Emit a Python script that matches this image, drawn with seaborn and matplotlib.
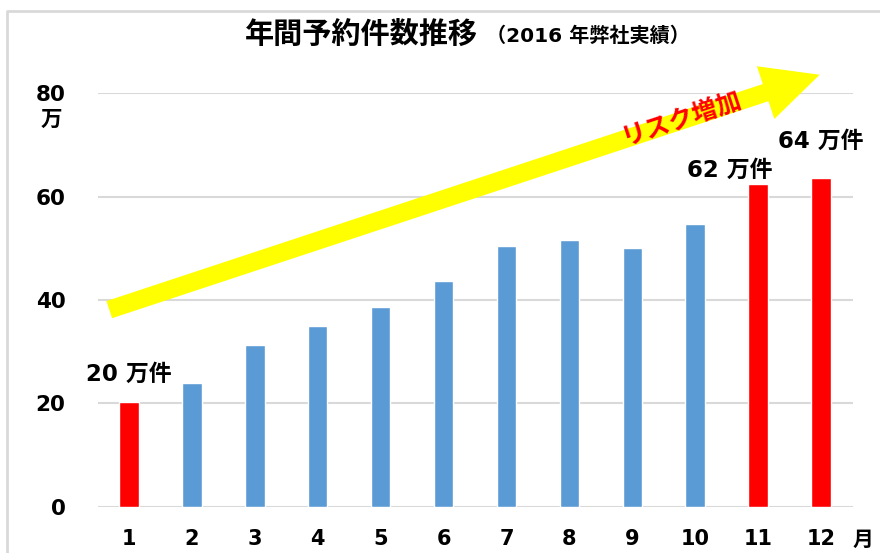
#! /usr/bin/env python
'''
Monthly reservation counts (2016), with risk arrow
'''
# imports
from matplotlib import rcParams
from matplotlib.patches import FancyArrowPatch, ArrowStyle
from matplotlib.lines import Line2D
import matplotlib.pyplot as plt
import pandas as pd
import seaborn as sns

# settings
sns.set_style("white")
rcParams['font.family'] = ['DejaVu Sans', 'Noto Sans CJK JP']
rcParams['font.weight'] = 'bold'
rcParams['text.color'] = 'black'

# DATA
months = ['1', '2', '3', '4', '5', '6', '7', '8', '9', '10', '11', '12']
counts = [20.2, 23.9, 31.4, 35.0, 38.6, 43.7, 50.4, 51.5, 50.1, 54.6, 62.4, 63.6]  # 万件
highlight = ['1', '11', '12']
yticks = [0, 20, 40, 60, 80]
value_labels = {'1': '20 万件', '11': '62 万件', '12': '64 万件'}

blue = '#5B9BD5'
red = '#FF0000'
palette = {m: (red if m in highlight else blue) for m in months}

df = pd.DataFrame({'month': months, 'count': counts})

fig = plt.figure(figsize=(8.8, 5.53), dpi=100)
ax = fig.add_axes([0.1108, 0.0832, 0.858, 0.7486])
sns.barplot(data=df, x='month', y='count', hue='month', palette=palette,
            order=months, legend=False, width=0.31, saturation=1, ax=ax, zorder=2)

ax.set_ylim(0, 80)
ax.set_yticks(yticks)
ax.set_yticklabels([str(t) for t in yticks])
ax.set_xlabel('')
ax.set_ylabel('')
for s in ax.spines.values():
    s.set_visible(False)
ax.yaxis.grid(True, color='#d9d9d9', lw=1.5, zorder=0)
ax.set_axisbelow(True)
ax.tick_params(axis='y', length=0, pad=23, labelsize=15.5, labelcolor='black')
ax.tick_params(axis='x', length=0, pad=16, labelsize=15, labelcolor='black')

# value labels
offsets = {'1': (0, 5.5), '11': (-0.45, 2.7), '12': (0, 7.1)}
for i, m in enumerate(months):
    if m in value_labels:
        dx, dy = offsets[m]
        ax.text(i + dx, counts[i] + dy, value_labels[m], ha='center', va='center',
                fontsize=16.5, fontweight='bold', color='black', zorder=4)

# risk arrow
arrow = FancyArrowPatch((-0.355, 37.97), (11.02, 83.7),
                        arrowstyle=ArrowStyle.Simple(head_length=41, head_width=40, tail_width=13),
                        mutation_scale=1, color='#FFFF00', lw=0, clip_on=False, zorder=3)
ax.add_patch(arrow)
ax.text(8.78, 75.0, 'リスク増加', rotation=18.3, rotation_mode='anchor', ha='center', va='center',
        fontsize=18, fontweight='bold', color=red, clip_on=False, zorder=4)

# title
fig.text(245 / 880, 1 - 35 / 553, '年間予約件数推移', ha='left', va='center', fontsize=21, fontweight='bold')
fig.text(486 / 880, 1 - 36 / 553, '（2016 年弊社実績）', ha='left', va='center', fontsize=14.5, fontweight='bold')

# units
fig.text(51 / 880, 1 - 120 / 553, '万', ha='center', va='center', fontsize=15.5, fontweight='bold')
fig.text(863 / 880, 1 - 540 / 553, '月', ha='center', va='center', fontsize=15, fontweight='bold')

# frame
fig.add_artist(Line2D([7 / 880, 7 / 880, 1], [0, 1 - 11 / 553, 1 - 11 / 553],
                      transform=fig.transFigure, color='#d9d9d9', lw=2))

fig.savefig('out.png', dpi=100)
plt.close()
